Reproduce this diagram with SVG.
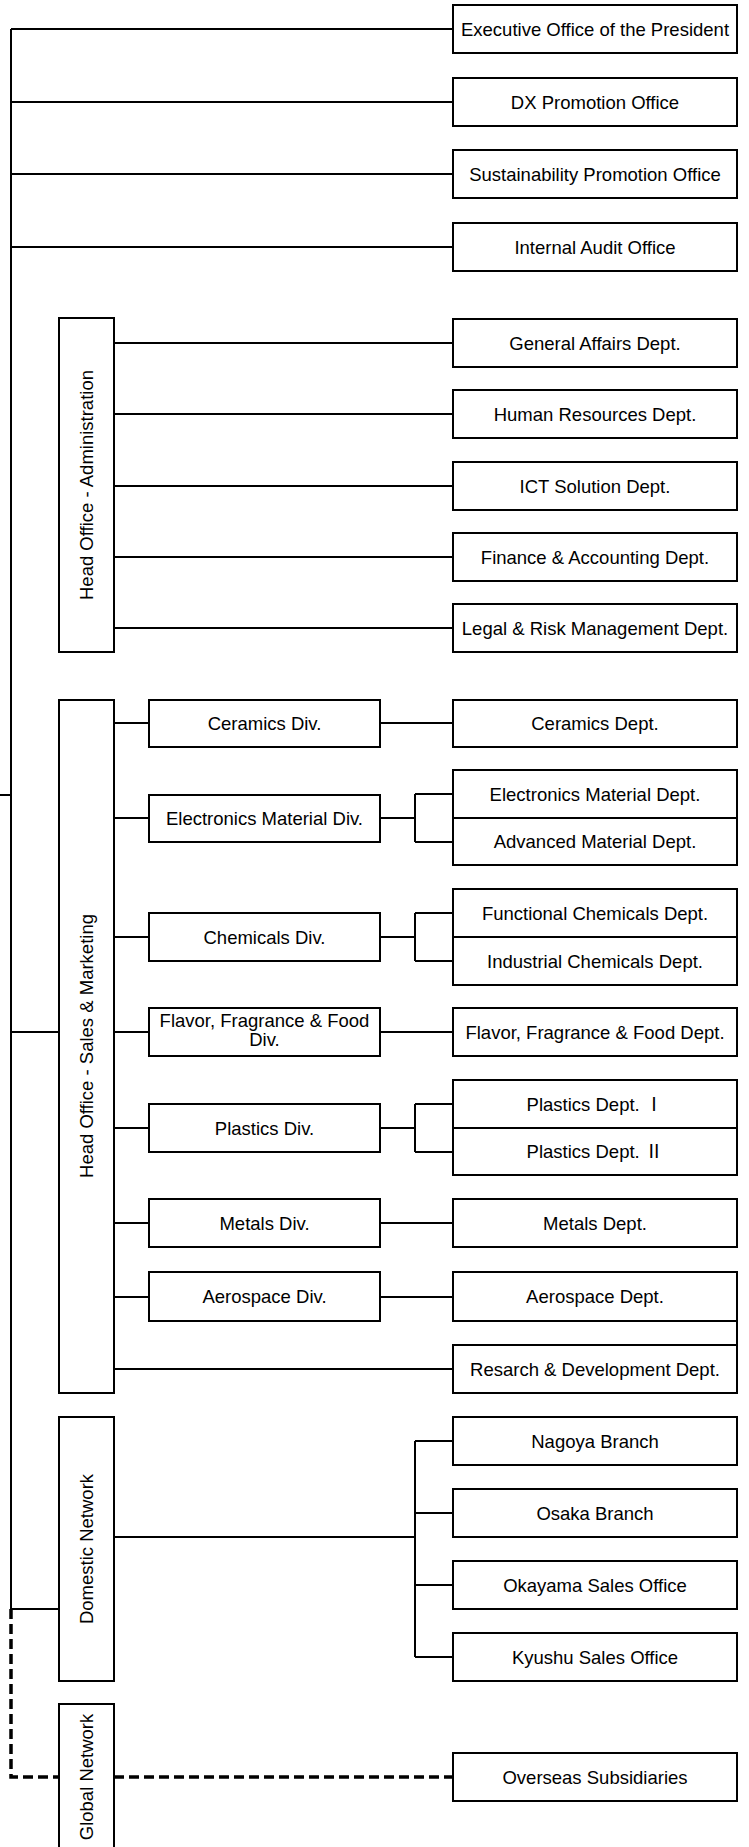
<svg xmlns="http://www.w3.org/2000/svg" width="749" height="1847" viewBox="0 0 749 1847">
<style>
.b{fill:#fff;stroke:#000;stroke-width:2}
.t{font-family:"Liberation Sans",Arial,"Noto Sans CJK JP",sans-serif;font-size:18.5px;text-anchor:middle;fill:#000}
.r{font-family:"Noto Sans CJK JP","Noto Sans CJK SC",sans-serif}
.c{fill:none;stroke:#000;stroke-width:2}
.d{fill:none;stroke:#000;stroke-width:3.5;stroke-dasharray:10 5}
</style>
<rect width="749" height="1847" fill="#fff"/>
<g id="connectors">
<path class="c" d="M11 29V1609M11 29H453M11 102H453M11 174H453M11 247H453M0 795H11M11 1032H59M11 1609H59"/>
<path class="c" d="M114 343H453M114 414H453M114 486H453M114 557H453M114 628H453"/>
<path class="c" d="M114 723H149M380 723H453M114 818H149M380 818H415M415 794V842M415 794H453M415 842H453M114 937H149M380 937H415M415 913V961M415 913H453M415 961H453M114 1032H149M380 1032H453M114 1128H149M380 1128H415M415 1104V1152M415 1104H453M415 1152H453M114 1223H149M380 1223H453M114 1297H149M380 1297H453M114 1369H453M737 1321V1345"/>
<path class="c" d="M114 1537H415M415 1441V1657M415 1441H453M415 1513H453M415 1585H453M415 1657H453"/>
<path class="d" d="M11 1609V1777H59M114 1777H453"/>
</g>
<g id="exec"><rect class="b" x="453" y="5" width="284" height="48"/><text class="t" x="595" y="35.6">Executive Office of the President</text></g>
<g id="dx"><rect class="b" x="453" y="78" width="284" height="48"/><text class="t" x="595" y="108.6">DX Promotion Office</text></g>
<g id="sustain"><rect class="b" x="453" y="150" width="284" height="48"/><text class="t" x="595" y="180.6">Sustainability Promotion Office</text></g>
<g id="audit"><rect class="b" x="453" y="223" width="284" height="48"/><text class="t" x="595" y="253.6">Internal Audit Office</text></g>
<g id="admin"><rect class="b" x="59" y="318" width="55" height="334"/><text class="t" transform="translate(86 485) rotate(-90)" y="6.6">Head Office - Administration</text></g>
<g id="general"><rect class="b" x="453" y="319" width="284" height="48"/><text class="t" x="595" y="349.6">General Affairs Dept.</text></g>
<g id="hr"><rect class="b" x="453" y="390" width="284" height="48"/><text class="t" x="595" y="420.6">Human Resources Dept.</text></g>
<g id="ict"><rect class="b" x="453" y="462" width="284" height="48"/><text class="t" x="595" y="492.6">ICT Solution Dept.</text></g>
<g id="finance"><rect class="b" x="453" y="533" width="284" height="48"/><text class="t" x="595" y="563.6">Finance &amp; Accounting Dept.</text></g>
<g id="legal"><rect class="b" x="453" y="604" width="284" height="48"/><text class="t" x="595" y="634.6">Legal &amp; Risk Management Dept.</text></g>
<g id="sales"><rect class="b" x="59" y="700" width="55" height="693"/><text class="t" transform="translate(86 1046) rotate(-90)" y="6.6">Head Office - Sales &amp; Marketing</text></g>
<g id="ceramics-div"><rect class="b" x="149" y="700" width="231" height="47"/><text class="t" x="264.5" y="730">Ceramics Div.</text></g>
<g id="ceramics-dept"><rect class="b" x="453" y="700" width="284" height="47"/><text class="t" x="595" y="730">Ceramics Dept.</text></g>
<g id="electronics-div"><rect class="b" x="149" y="795" width="231" height="47"/><text class="t" x="264.5" y="825">Electronics Material Div.</text></g>
<g id="electronics-dept"><rect class="b" x="453" y="770" width="284" height="48"/><text class="t" x="595" y="800.6">Electronics Material Dept.</text></g>
<g id="advanced-dept"><rect class="b" x="453" y="818" width="284" height="47"/><text class="t" x="595" y="848">Advanced Material Dept.</text></g>
<g id="chemicals-div"><rect class="b" x="149" y="913" width="231" height="48"/><text class="t" x="264.5" y="943.6">Chemicals Div.</text></g>
<g id="functional-dept"><rect class="b" x="453" y="889" width="284" height="48"/><text class="t" x="595" y="919.6">Functional Chemicals Dept.</text></g>
<g id="industrial-dept"><rect class="b" x="453" y="937" width="284" height="48"/><text class="t" x="595" y="967.6">Industrial Chemicals Dept.</text></g>
<g id="flavor-div"><rect class="b" x="149" y="1008" width="231" height="48"/><text class="t" x="264.5" y="1027">Flavor, Fragrance &amp; Food</text><text class="t" x="264.5" y="1046">Div.</text></g>
<g id="flavor-dept"><rect class="b" x="453" y="1008" width="284" height="48"/><text class="t" x="595" y="1038.6">Flavor, Fragrance &amp; Food Dept.</text></g>
<g id="plastics-div"><rect class="b" x="149" y="1104" width="231" height="48"/><text class="t" x="264.5" y="1134.6">Plastics Div.</text></g>
<g id="plastics-1"><rect class="b" x="453" y="1080" width="284" height="48"/><text class="t" x="595" y="1110.6">Plastics Dept. <tspan class="r">Ⅰ</tspan></text></g>
<g id="plastics-2"><rect class="b" x="453" y="1128" width="284" height="47"/><text class="t" x="595" y="1158">Plastics Dept. <tspan class="r">Ⅱ</tspan></text></g>
<g id="metals-div"><rect class="b" x="149" y="1199" width="231" height="48"/><text class="t" x="264.5" y="1229.6">Metals Div.</text></g>
<g id="metals-dept"><rect class="b" x="453" y="1199" width="284" height="48"/><text class="t" x="595" y="1229.6">Metals Dept.</text></g>
<g id="aerospace-div"><rect class="b" x="149" y="1272" width="231" height="49"/><text class="t" x="264.5" y="1303.1">Aerospace Div.</text></g>
<g id="aerospace-dept"><rect class="b" x="453" y="1272" width="284" height="49"/><text class="t" x="595" y="1303.1">Aerospace Dept.</text></g>
<g id="rnd"><rect class="b" x="453" y="1345" width="284" height="48"/><text class="t" x="595" y="1375.6">Resarch &amp; Development Dept.</text></g>
<g id="domestic"><rect class="b" x="59" y="1417" width="55" height="264"/><text class="t" transform="translate(86 1549) rotate(-90)" y="6.6">Domestic Network</text></g>
<g id="nagoya"><rect class="b" x="453" y="1417" width="284" height="48"/><text class="t" x="595" y="1447.6">Nagoya Branch</text></g>
<g id="osaka"><rect class="b" x="453" y="1489" width="284" height="48"/><text class="t" x="595" y="1519.6">Osaka Branch</text></g>
<g id="okayama"><rect class="b" x="453" y="1561" width="284" height="48"/><text class="t" x="595" y="1591.6">Okayama Sales Office</text></g>
<g id="kyushu"><rect class="b" x="453" y="1633" width="284" height="48"/><text class="t" x="595" y="1663.6">Kyushu Sales Office</text></g>
<g id="global"><rect class="b" x="59" y="1704" width="55" height="150"/><text class="t" transform="translate(86 1777) rotate(-90)" y="6.6">Global Network</text></g>
<g id="overseas"><rect class="b" x="453" y="1753" width="284" height="48"/><text class="t" x="595" y="1783.6">Overseas Subsidiaries</text></g>
</svg>
